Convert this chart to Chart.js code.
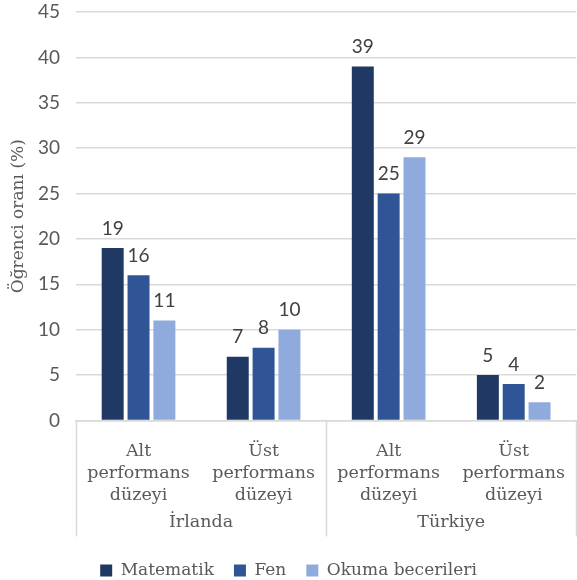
<!DOCTYPE html>
<html lang="tr">
<head>
<meta charset="UTF-8">
<title>Öğrenci oranı</title>
<script src="https://cdn.jsdelivr.net/npm/chart.js"></script>
<style>
  html, body { margin: 0; padding: 0; background: #fff; }
  .wrap { width: 577px; height: 580px; position: relative; }
</style>
</head>
<body>
<div class="wrap"><canvas id="c"></canvas></div>
<script>
const categories = [
  ['Alt', 'performans', 'düzeyi'],
  ['Üst', 'performans', 'düzeyi'],
  ['Alt', 'performans', 'düzeyi'],
  ['Üst', 'performans', 'düzeyi']
];
const groups = ['İrlanda', 'Türkiye'];
const seriesNames = ['Matematik', 'Fen', 'Okuma becerileri'];
const matematik = [19, 7, 39, 5];
const fen = [16, 8, 25, 4];
const okuma = [11, 10, 29, 2];
const seriesColors = ['#1F3864', '#2F5597', '#8FAADC'];

const serif = "'DejaVu Serif', serif";
const sans = "Lato, 'Open Sans', sans-serif";

// values above the bars
const valueLabels = {
  id: 'valueLabels',
  afterDatasetsDraw(chart) {
    const ctx = chart.ctx;
    ctx.save();
    ctx.font = '19px ' + sans;
    ctx.fillStyle = '#404040';
    ctx.textAlign = 'center';
    ctx.textBaseline = 'bottom';
    chart.data.datasets.forEach((ds, i) => {
      chart.getDatasetMeta(i).data.forEach((bar, j) => {
        ctx.fillText(ds.data[j], bar.x, bar.y - 10);
      });
    });
    ctx.restore();
  }
};

// group separators and country labels under the axis
const groupAxis = {
  id: 'groupAxis',
  afterDraw(chart) {
    const ctx = chart.ctx;
    const x = chart.scales.x;
    const bottom = chart.chartArea.bottom;
    const step = x.getPixelForValue(1) - x.getPixelForValue(0);
    ctx.save();
    ctx.strokeStyle = '#D9D9D9';
    ctx.lineWidth = 1.5;
    [0, 2, 4].forEach(k => {
      const px = Math.round(x.getPixelForValue(0) - step / 2 + k * step) + 0.5;
      ctx.beginPath();
      ctx.moveTo(px, bottom);
      ctx.lineTo(px, bottom + 116);
      ctx.stroke();
    });
    ctx.font = '17.5px ' + serif;
    ctx.fillStyle = '#595959';
    ctx.textAlign = 'center';
    ctx.textBaseline = 'middle';
    groups.forEach((g, k) => {
      const cx = (x.getPixelForValue(2 * k) + x.getPixelForValue(2 * k + 1)) / 2;
      ctx.fillText(g, cx, bottom + 102);
    });
    ctx.restore();
  }
};

const datasets = [matematik, fen, okuma].map((d, i) => ({
  label: seriesNames[i],
  data: d,
  backgroundColor: seriesColors[i],
  borderWidth: 0,
  barPercentage: 0.85,
  categoryPercentage: 0.62
}));

new Chart(document.getElementById('c'), {
  type: 'bar',
  data: { labels: categories, datasets },
  options: {
    responsive: true,
    maintainAspectRatio: false,
    animation: false,
    layout: { padding: { top: 0, right: 0, bottom: -9, left: 0 } },
    scales: {
      y: {
        min: 0, max: 45,
        ticks: { stepSize: 5, color: '#595959', font: { family: sans, size: 19 }, padding: 16 },
        grid: { color: '#D9D9D9', lineWidth: 1.5, drawTicks: false },
        border: { display: false },
        title: { display: true, text: 'Öğrenci oranı (%)', color: '#595959', font: { family: serif, size: 17 }, padding: { top: 8, bottom: 0 } },
        afterFit(s) { s.width = 76; s.paddingTop = 12; }
      },
      x: {
        ticks: { color: '#595959', font: { family: serif, size: 17.5, lineHeight: 1.26 }, padding: 12, maxRotation: 0, autoSkip: false },
        grid: { display: false },
        border: { color: '#D9D9D9', width: 1.5 },
        afterFit(s) { s.height = 121.6; }
      }
    },
    plugins: {
      legend: {
        position: 'bottom',
        labels: { color: '#595959', font: { family: serif, size: 17 }, boxWidth: 12, boxHeight: 12, padding: 20 }
      },
      tooltip: { enabled: false }
    }
  },
  plugins: [valueLabels, groupAxis]
});
</script>
</body>
</html>
